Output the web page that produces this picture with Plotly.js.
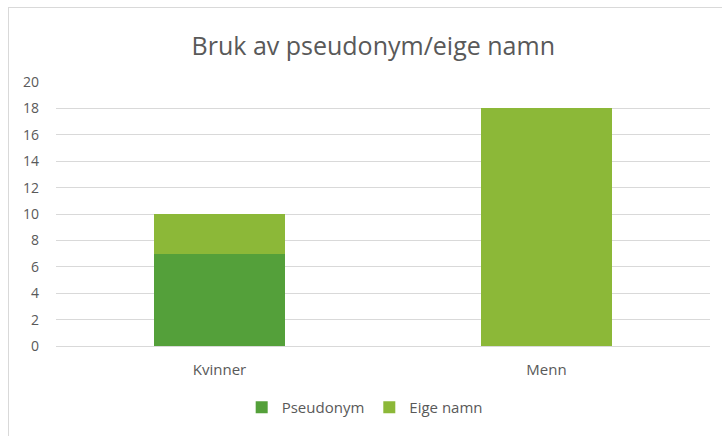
<!DOCTYPE html>
<html><head><meta charset="utf-8">
<script src="https://cdn.plot.ly/plotly-3.0.1.min.js"></script>
<style>
html,body{margin:0;padding:0;background:#fff;}
#wrap{position:relative;width:722px;height:436px;}
#chart{position:absolute;left:0;top:0;width:722px;height:436px;}
#frame{position:absolute;left:8px;top:7px;right:-2px;bottom:-2px;border-top:1px solid #d9d9d9;border-left:1px solid #d9d9d9;pointer-events:none;}
</style></head>
<body><div id="wrap"><div id="chart"></div><div id="frame"></div></div>
<script>
const categories = ["Kvinner", "Menn"];
const pseudonym = [7, 0];
const eigeNamn = [3, 18];
const seriesNames = ["Pseudonym", "Eige namn"];
const yTicks = [0, 2, 4, 6, 8, 10, 12, 14, 16, 18, 20];

const font = "'Open Sans', sans-serif";
const traces = [
  {type: "bar", x: categories, y: pseudonym, name: seriesNames[0], marker: {color: "#54a03a"}},
  {type: "bar", x: categories, y: eigeNamn, name: seriesNames[1], marker: {color: "#8cb838"}}
];
const layout = {
  width: 722, height: 436,
  barmode: "stack", bargap: 0.6,
  paper_bgcolor: "rgba(0,0,0,0)", plot_bgcolor: "rgba(0,0,0,0)",
  margin: {l: 56, r: 12, t: 82, b: 88},
  font: {family: font, color: "#595959", size: 14},
  title: {text: "Bruk av pseudonym/eige namn", x: 0.517, xanchor: "center", y: 0.895, yanchor: "middle",
          font: {family: font, size: 25, color: "#595959"}},
  xaxis: {showgrid: false, showline: true, linecolor: "#d9d9d9", linewidth: 1, ticks: "", ticklabelstandoff: 10,
          tickfont: {size: 15, color: "#595959"}, fixedrange: true},
  yaxis: {range: [0, 20], tickvals: yTicks, ticktext: yTicks.map(String), showgrid: true, gridcolor: "#d9d9d9", gridwidth: 1,
          zeroline: false, showline: false, ticks: "", ticklabelstandoff: 16, tickfont: {size: 14, color: "#595959"}},
  legend: {orientation: "h", x: 0.472, xanchor: "center", y: -0.233, yanchor: "middle", font: {size: 15, color: "#595959"}, traceorder: "normal"},
  showlegend: true
};
Plotly.newPlot("chart", traces, layout, {displayModeBar: false, staticPlot: true});
</script></body></html>
